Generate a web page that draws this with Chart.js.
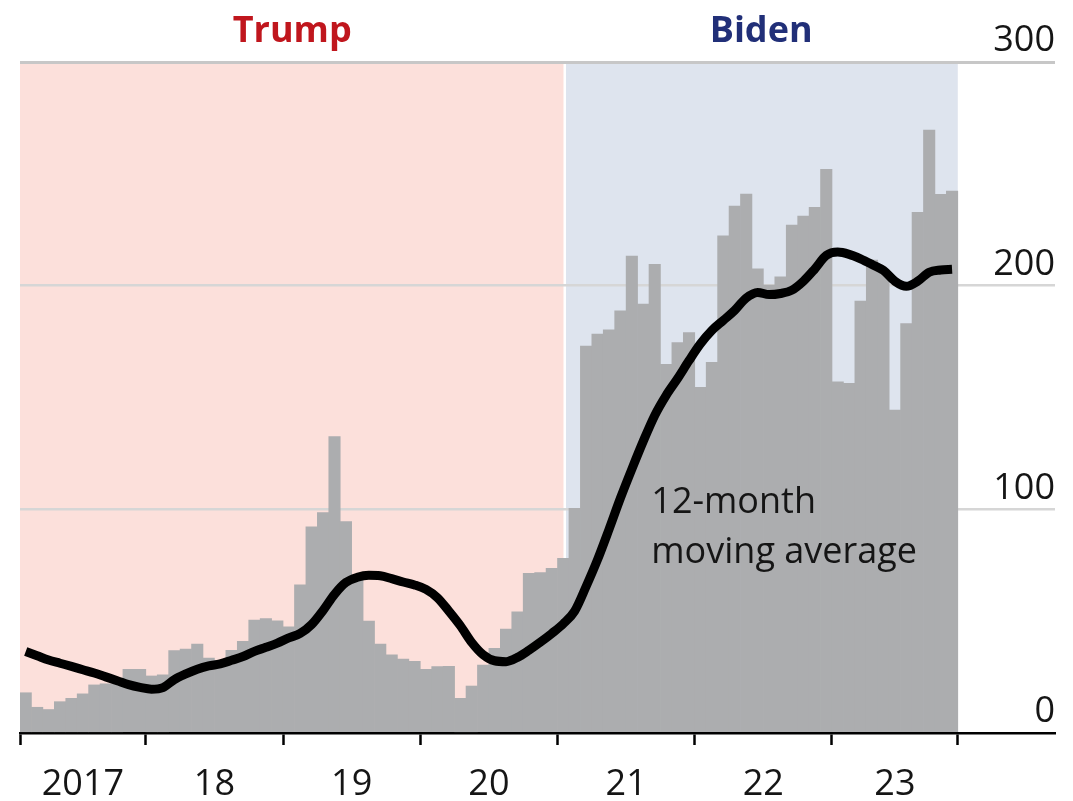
<!DOCTYPE html>
<html>
<head>
<meta charset="utf-8">
<script src="https://cdn.jsdelivr.net/npm/chart.js@4"></script>
<style>
  html, body { margin: 0; padding: 0; background: #fff; }
  #wrap { width: 1073px; height: 801px; }
</style>
</head>
<body>
<div id="wrap"><canvas id="chart" width="1073" height="801"></canvas></div>
<script>
// --- DATA (monthly, Feb 2017 - Nov 2023) ---
// month index: 1 = Feb 2017 start, 12 = Jan 2018 start ...
const firstMonth = 1;
const monthlyCounts = [
    18, 11.5, 10.5, 14, 15.5, 17.5, 21.5, 22, 22, 28.5, 28.5,           // 2017
    25.5, 26, 36.8, 37.5, 39.8, 33.5, 32.5, 37, 41, 50.5, 51.2, 50.2,   // 2018
    47.5, 66.3, 92.2, 98.5, 132.5, 94.5, 69, 50, 39.8, 35, 33, 32,      // 2019
    28.5, 29.7, 29.8, 15.5, 21, 30.4, 37.9, 46.5, 54.2, 71.4, 71.7, 73.6, // 2020
    78.1, 100.4, 173, 178.4, 180.2, 188.8, 213.2, 191.8, 209.5, 164.8, 174.5, 179, // 2021
    154.5, 165.7, 222.3, 235.6, 241, 207.5, 200.3, 204, 227.1, 231.1, 235, 252,    // 2022
    157, 156.3, 193.1, 211.4, 207, 144.4, 183.1, 232.8, 269.6, 240.8, 242.3        // 2023
];
const movingAverage = [
    36.4, 34.5, 32.6, 31.2, 29.8, 28.3, 26.8, 25.1, 23.4, 21.6, 20.4,
    19.6, 20.3, 23.9, 26.4, 28.5, 30, 30.9, 32.5, 34.2, 36.5, 38.3, 40.2,
    42.5, 44.5, 48.5, 54.8, 62, 67.3, 69.6, 70.5, 70.3, 69, 67.5, 66.2,
    64.2, 60.5, 54.5, 48, 40.5, 35, 32.3, 31.9, 33.8, 37, 40.6, 44.5,
    48.8, 54.5, 65.5, 77.5, 91, 105, 118, 130.5, 142, 151, 158.5, 166.5,
    174, 180, 184.5, 189, 194.5, 197, 196, 196.5, 198, 202, 207.5, 213.5,
    215, 214, 212, 209.5, 206.8, 202, 199.7, 202, 206, 207, 207.3
];

// x axis: year boundaries (tick marks) and year labels (centred on each year)
const yearBoundaries = [1, 12, 24, 36, 48, 60, 72, 83];
const yearLabelPositions = [6.5, 18, 30, 42, 54, 66, 77.5];
const yearLabels = ['2017', '18', '19', '20', '21', '22', '23'];

// y axis
const yTicks = [0, 100, 200, 300];

// presidential terms (month index)
const presidents = ['Trump', 'Biden'];
const termStart = [1, 48.61];
const termEnd = [48.61, 83];
const termFill = ['#fce0db', '#dee4ee'];
const termTextColor = ['#c0161d', '#212f78'];

const lineLabel = ['12-month', 'moving average'];

const FONT = "'Open Sans', 'Noto Sans', sans-serif";

const barPoints = monthlyCounts.map((v, i) => ({ x: firstMonth + i + 0.5, y: v }));
const linePoints = movingAverage.map((v, i) => ({ x: firstMonth + i + 0.5, y: v }));

const allXTicks = [...yearBoundaries, ...yearLabelPositions].sort((a, b) => a - b);

const backgroundPlugin = {
    id: 'terms',
    beforeDraw(chart) {
        const { ctx, scales: { x, y } } = chart;
        const top = y.getPixelForValue(300);
        const bottom = y.getPixelForValue(0);
        ctx.save();
        presidents.forEach((p, i) => {
            let x0 = x.getPixelForValue(termStart[i]);
            let x1 = x.getPixelForValue(termEnd[i]);
            if (i === 0) x1 -= 1; else x0 += 1.5;
            ctx.fillStyle = termFill[i];
            ctx.fillRect(x0, top, x1 - x0, bottom - top);
        });
        ctx.restore();
    },
    afterDraw(chart) {
        const { ctx, scales: { x, y } } = chart;
        ctx.save();
        ctx.textAlign = 'center';
        ctx.textBaseline = 'alphabetic';
        ctx.font = `bold 36px ${FONT}`;
        presidents.forEach((p, i) => {
            const cx = (x.getPixelForValue(termStart[i]) + x.getPixelForValue(termEnd[i])) / 2;
            ctx.fillStyle = termTextColor[i];
            ctx.fillText(p, cx, 42);
        });
        // moving average label
        ctx.textAlign = 'left';
        ctx.textBaseline = 'middle';
        ctx.font = `36px ${FONT}`;
        ctx.fillStyle = '#151515';
        ctx.fillText(lineLabel[0], x.getPixelForValue(56.2), y.getPixelForValue(103));
        ctx.fillText(lineLabel[1], x.getPixelForValue(56.2), y.getPixelForValue(80.5));
        ctx.restore();
    }
};

new Chart(document.getElementById('chart'), {
    type: 'bar',
    data: {
        datasets: [
            {
                type: 'line',
                data: linePoints,
                borderColor: '#000',
                borderWidth: 9,
                cubicInterpolationMode: 'monotone',
                pointRadius: 0,
                borderCapStyle: 'butt',
                order: 0
            },
            {
                type: 'bar',
                data: barPoints,
                backgroundColor: '#acadaf',
                borderWidth: 0,
                barPercentage: 1,
                categoryPercentage: 1,
                order: 1
            }
        ]
    },
    options: {
        responsive: false,
        animation: false,
        layout: { padding: { left: 20, right: 18, top: 62, bottom: 0 } },
        plugins: {
            legend: { display: false },
            tooltip: { enabled: false }
        },
        scales: {
            x: {
                type: 'linear',
                min: 1,
                max: 91.5,
                offset: false,
                afterBuildTicks: (axis) => { axis.ticks = allXTicks.map(v => ({ value: v })); },
                afterFit: (axis) => { axis.height = 68; },
                border: { display: true, color: '#000', width: 2.5 },
                grid: {
                    drawOnChartArea: false,
                    drawTicks: true,
                    tickLength: 12,
                    tickWidth: 2.5,
                    offset: false,
                    tickColor: (ctx) => yearBoundaries.includes(ctx.tick && ctx.tick.value) ? '#000' : 'rgba(0,0,0,0)'
                },
                ticks: {
                    autoSkip: false,
                    maxRotation: 0,
                    padding: 18,
                    color: '#151515',
                    font: { family: FONT, size: 36 },
                    callback: (value) => {
                        const k = yearLabelPositions.indexOf(value);
                        return k >= 0 ? yearLabels[k] : '';
                    }
                }
            },
            y: {
                position: 'right',
                min: 0,
                max: 300,
                afterBuildTicks: (axis) => { axis.ticks = yTicks.map(v => ({ value: v })); },
                afterFit: (axis) => { axis.width = 0; },
                border: { display: false },
                grid: {
                    drawTicks: false,
                    color: (ctx) => ctx.tick.value === 0 ? 'rgba(0,0,0,0)' : (ctx.tick.value === 300 ? '#c7c7c7' : '#d6d6d6'),
                    lineWidth: (ctx) => ctx.tick.value === 300 ? 3 : 2.5
                },
                ticks: {
                    mirror: true,
                    padding: 0,
                    labelOffset: -21,
                    color: '#151515',
                    font: { family: FONT, size: 36 }
                }
            }
        }
    },
    plugins: [backgroundPlugin]
});
</script>
</body>
</html>
